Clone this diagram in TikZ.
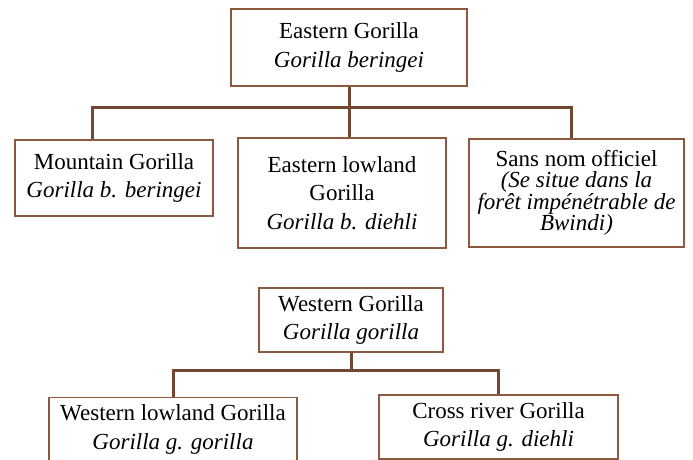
\documentclass[tikz,border=0pt]{standalone}
\usepackage{fontspec}
\setmainfont{Liberation Serif}
\usepackage{tikz}
\usetikzlibrary{positioning}
\definecolor{boxbrown}{RGB}{140,88,62}
\definecolor{linkbrown}{RGB}{116,72,48}
\tikzset{
    x=1pt, y=-1pt, % one unit is one pixel of the page, y runs downwards
    box/.style={draw=boxbrown, line width=1.3pt, fill=white, align=center, inner sep=2pt,
        font=\fontsize{23}{28.5}\selectfont}, % sets the properties for each taxon box
    tightbox/.style={box, font=\fontsize{23}{21.5}\selectfont}, % a box with closer lines
    link/.style={draw=linkbrown, line width=3pt}, % the tree connectors
}
\begin{document}
\begin{tikzpicture}
    \useasboundingbox (0,0) rectangle (693,460);
    % eastern tree
    \node[box, minimum width=236pt, minimum height=77pt] (eastern) at (349,47.5) {Eastern Gorilla\\ \textit{Gorilla beringei}};
    \node[box, minimum width=198pt, minimum height=76pt] (mountain) at (114,178) {Mountain Gorilla\\ \textit{Gorilla b. beringei}};
    \node[box, minimum width=208pt, minimum height=110pt] (lowland) at (342,193) {Eastern lowland\\ Gorilla\\ \textit{Gorilla b. diehli}};
    \node[tightbox, minimum width=215pt, minimum height=108pt] (sansnom) at (576.5,193) {Sans nom officiel\\ \textit{(Se situe dans la}\\ \textit{forêt impénétrable de}\\ \textit{Bwindi)}};
    \draw[link] (eastern.south) -- ++(0,21) -| ([xshift=-22pt]mountain.north);
    \draw[link] (eastern.south) -- ([xshift=7pt]lowland.north);
    \draw[link] (eastern.south) ++(0,21) -| ([xshift=-5.5pt]sansnom.north);
    % western tree
    \node[box, minimum width=184pt, minimum height=64pt] (western) at (351,320) {Western Gorilla\\ \textit{Gorilla gorilla}};
    \node[box, minimum width=248pt, minimum height=84pt, inner ysep=7pt, anchor=north] (wlowland) at (173,397) {Western lowland Gorilla\\ \textit{Gorilla g. gorilla}\\[14pt]};
    \node[box, minimum width=239pt, minimum height=64pt] (crossriver) at (498.5,427) {Cross river Gorilla\\ \textit{Gorilla g. diehli}};
    \draw[link] (western.south) -- ++(0,18) -| (wlowland.north);
    \draw[link] (western.south) ++(0,18) -| (crossriver.north);
\end{tikzpicture}
\end{document}
